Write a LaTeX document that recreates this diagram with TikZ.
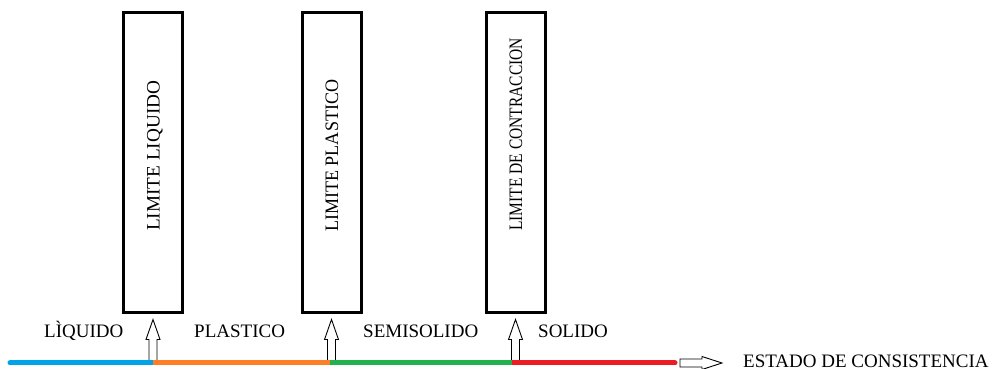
\documentclass[tikz,border=0pt]{standalone}
\usepackage{fontspec}
\setmainfont{Liberation Serif}
\usetikzlibrary{calc}
\definecolor{cblue}{HTML}{00A2E8}
\definecolor{corange}{HTML}{FF7F27}
\definecolor{cgreen}{HTML}{22B14C}
\definecolor{cred}{HTML}{ED1C24}
\tikzset{
  limbox/.style={draw=black, line width=3pt, minimum width=59pt, minimum height=300pt, inner sep=0pt},
  vlabel/.style={rotate=90, anchor=base west, inner sep=0pt, font=\fontsize{19}{23}\selectfont},
  hlabel/.style={anchor=base west, inner sep=0pt, font=\fontsize{19}{23}\selectfont},
  hollow/.style={draw=black, line width=0.9pt, fill=white, line join=miter},
  seg/.style={line width=5pt, line cap=butt},
}
\begin{document}
\begin{tikzpicture}[x=1pt,y=1pt]
\useasboundingbox (0,0) rectangle (998,369);
% boxes
\node[limbox] (b1) at (153,206.5) {};
\node[limbox] (b2) at (331.5,206.5) {};
\node[limbox] (b3) at (515.5,206.5) {};
\node[vlabel] (t1) at ($(b1.center |- 0,138)+(6.5,0)$) {\resizebox{150pt}{\height}{LIMITE LIQUIDO}};
\node[vlabel] (t2) at ($(b2.center |- 0,137)+(6.5,0)$) {\resizebox{152pt}{\height}{LIMITE PLASTICO}};
\node[vlabel] (t3) at ($(b3.center |- 0,138)+(6.5,0)$) {\resizebox{193pt}{\height}{LIMITE DE CONTRACCION}};
% line points
\coordinate (p0) at (10,6);
\coordinate (p1) at (152.5,6);
\coordinate (p2) at (330,6);
\coordinate (p3) at (512,6);
\coordinate (p4) at (675,6);
% hollow arrows
\foreach \b/\p in {b1/p1,b2/p2,b3/p3}{
  \draw[hollow] ($(\b.south |- \p)+(-4,2)$) -- ($(\b.south)+(-4,-25.5)$) -- ($(\b.south)+(-7,-25.5)$)
    -- ($(\b.south)+(0,-5.5)$) -- ($(\b.south)+(7,-25.5)$) -- ($(\b.south)+(4,-25.5)$)
    -- ($(\b.south |- \p)+(4,2)$) -- cycle;
}
% coloured line
\draw[line width=5pt, line cap=round, cblue] (p0) -- (p1);
\draw[line width=5pt, line cap=round, cred] (p3) -- (p4);
\draw[seg, corange] (p1) -- (p2);
\draw[seg, cgreen] (p2) -- (p3);
% labels
\node[hlabel] (l1) at (44,31) {LÌQUIDO};
\node[hlabel] (l2) at (194,31) {PLASTICO};
\node[hlabel] (l3) at (363,31) {SEMISOLIDO};
\node[hlabel] (l4) at (538,31) {SOLIDO};
\node[hlabel] (e) at (743,1.5) {ESTADO DE CONSISTENCIA};
% right arrow
\coordinate (r0) at (680,6);
\draw[hollow] ($(r0)+(0,4)$) -- ($(r0)+(22,4)$) -- ($(r0)+(22,6.5)$) -- ($(r0 -| e.west)+(-21,0)$)
  -- ($(r0)+(22,-6.5)$) -- ($(r0)+(22,-4)$) -- ($(r0)+(0,-4)$) -- cycle;
\end{tikzpicture}
\end{document}
